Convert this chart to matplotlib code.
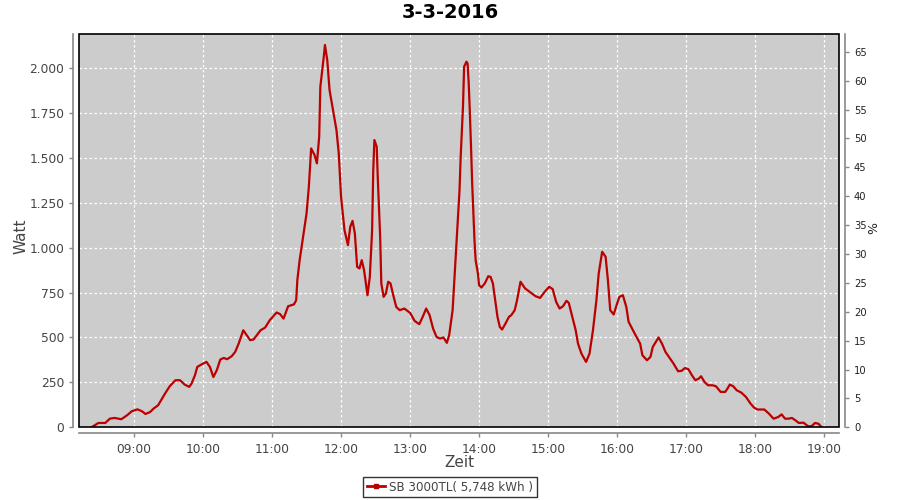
import matplotlib
matplotlib.use("Agg")
import matplotlib.pyplot as plt
from matplotlib.ticker import FuncFormatter, FixedLocator
from matplotlib.patches import Rectangle
from matplotlib.lines import Line2D

title = "3-3-2016"
series_name = "SB 3000TL( 5,748 kWh )"

times = ["08:23", "08:29", "08:35", "08:39", "08:43", "08:49", "08:54", "08:58",
         "09:03", "09:07", "09:10", "09:14", "09:17", "09:21", "09:27", "09:31",
         "09:36", "09:40", "09:44", "09:48", "09:50", "09:53", "09:55", "09:59",
         "10:03", "10:06", "10:09", "10:12", "10:15", "10:18", "10:21", "10:25",
         "10:28", "10:31", "10:35", "10:38", "10:41", "10:44", "10:50", "10:54",
         "10:58", "11:04", "11:07", "11:10", "11:14", "11:19", "11:21", "11:22",
         "11:24", "11:27", "11:30", "11:32", "11:34", "11:37", "11:39", "11:41",
         "11:42", "11:45", "11:46", "11:48", "11:50", "11:53", "11:56", "11:58",
         "12:00", "12:03", "12:06", "12:08", "12:10", "12:12", "12:14", "12:16",
         "12:18", "12:20", "12:22", "12:23", "12:25", "12:27", "12:28", "12:29",
         "12:31", "12:32", "12:34", "12:35", "12:37", "12:39", "12:41", "12:43",
         "12:45", "12:48", "12:51", "12:55", "13:00", "13:04", "13:08", "13:11",
         "13:14", "13:17", "13:20", "13:23", "13:26", "13:29", "13:32", "13:34",
         "13:37", "13:39", "13:41", "13:43", "13:44", "13:46", "13:47", "13:49",
         "13:50", "13:51", "13:52", "13:53", "13:54", "13:56", "13:57", "13:59",
         "14:00", "14:02", "14:05", "14:08", "14:10", "14:12", "14:14", "14:16",
         "14:18", "14:20", "14:23", "14:26", "14:28", "14:31", "14:33", "14:36",
         "14:40", "14:44", "14:49", "14:53", "14:57", "15:01", "15:04", "15:07",
         "15:10", "15:13", "15:16", "15:18", "15:21", "15:24", "15:26", "15:29",
         "15:33", "15:36", "15:39", "15:42", "15:44", "15:47", "15:50", "15:52",
         "15:54", "15:57", "16:00", "16:02", "16:05", "16:08", "16:10", "16:13",
         "16:16", "16:20", "16:22", "16:26", "16:29", "16:31", "16:36", "16:39",
         "16:42", "16:45", "16:49", "16:53", "16:56", "16:59", "17:02", "17:05",
         "17:08", "17:11", "17:13", "17:16", "17:19", "17:23", "17:26", "17:30",
         "17:34", "17:36", "17:38", "17:41", "17:44", "17:48", "17:52", "17:56",
         "17:59", "18:02", "18:08", "18:12", "18:16", "18:20", "18:23", "18:26",
         "18:29", "18:32", "18:35", "18:38", "18:42", "18:46", "18:49", "18:52",
         "18:55", "18:57", "18:58"]

watts = [0, 24, 24, 48, 52, 45, 67, 89,
         100, 89, 74, 85, 104, 123, 188, 228,
         262, 262, 238, 225, 243, 290, 336, 351,
         364, 336, 280, 318, 377, 386, 379, 396,
         420, 466, 540, 513, 485, 489, 540, 555,
         596, 639, 630, 605, 674, 684, 707, 819,
         930, 1060, 1190, 1339, 1552, 1515, 1469, 1617,
         1896, 2063, 2128, 2045, 1877, 1766, 1655, 1525,
         1283, 1097, 1014, 1116, 1149, 1079, 893, 884,
         930, 875, 782, 735, 837, 1097, 1432, 1599,
         1562, 1376, 1060, 801, 726, 745, 810, 801,
         745, 670, 652, 661, 637, 592, 574, 615,
         661, 624, 550, 503, 494, 500, 470, 513,
         652, 875, 1097, 1320, 1506, 1784, 2007, 2035,
         2025, 1914, 1748, 1562, 1357, 1042, 930, 856,
         791, 778, 801, 841, 837, 801, 707, 615,
         559, 544, 578, 615, 624, 652, 707, 810,
         773, 754, 730, 720, 754, 782, 769, 698,
         661, 674, 704, 692, 615, 540, 466, 410,
         364, 410, 540, 707, 856, 977, 949, 819,
         652, 628, 689, 726, 735, 670, 587, 550,
         513, 466, 401, 373, 392, 447, 500, 466,
         420, 392, 355, 312, 314, 330, 323, 290,
         262, 271, 284, 252, 234, 234, 228, 197,
         197, 216, 238, 228, 206, 193, 169, 132,
         110, 99, 99, 76, 48, 57, 72, 48,
         48, 52, 39, 24, 26, 6, 6, 24,
         20, 6, 0]

watt_ticks = [0, 250, 500, 750, 1000, 1250, 1500, 1750, 2000]
pct_ticks = [0, 5, 10, 15, 20, 25, 30, 35, 40, 45, 50, 55, 60, 65]
hour_ticks = [9, 10, 11, 12, 13, 14, 15, 16, 17, 18, 19]

def to_hours(s):
    h, m = s.split(":")
    return int(h) + int(m) / 60.0

x = [to_hours(t) for t in times]

line_color = "#bb0000"

fig = plt.figure(figsize=(9, 5), dpi=100)
ax = fig.add_axes([0.0878, 0.1454, 0.8448, 0.7866])
ax.set_facecolor("#cccccc")

ax.plot(x, watts, color=line_color, lw=1.6, zorder=3)

ax.set_xlim(8 + 12.2 / 60, 19 + 13.2 / 60)
ax.set_ylim(0, 2189)

ax.xaxis.set_major_locator(FixedLocator(hour_ticks))
ax.xaxis.set_major_formatter(FuncFormatter(lambda v, p: "%02d:00" % int(round(v))))
ax.yaxis.set_major_locator(FixedLocator(watt_ticks))
ax.yaxis.set_major_formatter(FuncFormatter(lambda v, p: "{:,}".format(int(v)).replace(",", ".")))

ax.grid(True, color="white", linestyle=(0, (2, 2)), lw=0.9)
ax.set_axisbelow(True)

gray = "#888888"
for s in ["top", "right"]:
    ax.spines[s].set_visible(False)
for s in ["left", "bottom"]:
    ax.spines[s].set_position(("outward", 4))
    ax.spines[s].set_color(gray)
    ax.spines[s].set_linewidth(1.2)

ax.tick_params(axis="both", colors=gray, labelcolor="#444444", labelsize=8.8, length=3, width=1)
ax.tick_params(axis="x", pad=4)

ax.add_patch(Rectangle((0, 0), 1, 1, transform=ax.transAxes, fill=False,
                       edgecolor="black", lw=1.2, clip_on=False, zorder=5))

ax2 = ax.twinx()
ax2.set_ylim(0, 68.07)
ax2.yaxis.set_major_locator(FixedLocator(pct_ticks))
for s in ["top", "left", "bottom"]:
    ax2.spines[s].set_visible(False)
ax2.spines["right"].set_position(("outward", 4))
ax2.spines["right"].set_color(gray)
ax2.spines["right"].set_linewidth(1.2)
ax2.tick_params(axis="y", colors=gray, labelcolor="#222222", labelsize=7.2, length=3, width=1)
ax2.set_ylabel("%", fontsize=9, color="#222222")
ax2.yaxis.set_label_coords(1.0364, 0.506)

ax.set_ylabel("Watt", fontsize=11, color="#444444")
ax.yaxis.set_label_coords(-0.067, 0.485)
ax.set_xlabel("Zeit", fontsize=11, color="#444444")
ax.xaxis.set_label_coords(0.5, -0.071)
fig.text(0.5, 0.974, title, ha="center", va="center", fontsize=14, fontweight="bold")

handle = Line2D([], [], color=line_color, lw=2, marker="s", markersize=2.2,
                label=series_name)
leg = fig.legend(handles=[handle], loc="center", bbox_to_anchor=(0.5, 0.026),
                 frameon=True, fancybox=False, edgecolor="black", fontsize=8.6,
                 handlelength=1.5, handletextpad=0.4, borderpad=0.3, borderaxespad=0)
leg.get_frame().set_linewidth(1)
for t in leg.get_texts():
    t.set_color("#444444")

fig.savefig("out.png", dpi=100)
